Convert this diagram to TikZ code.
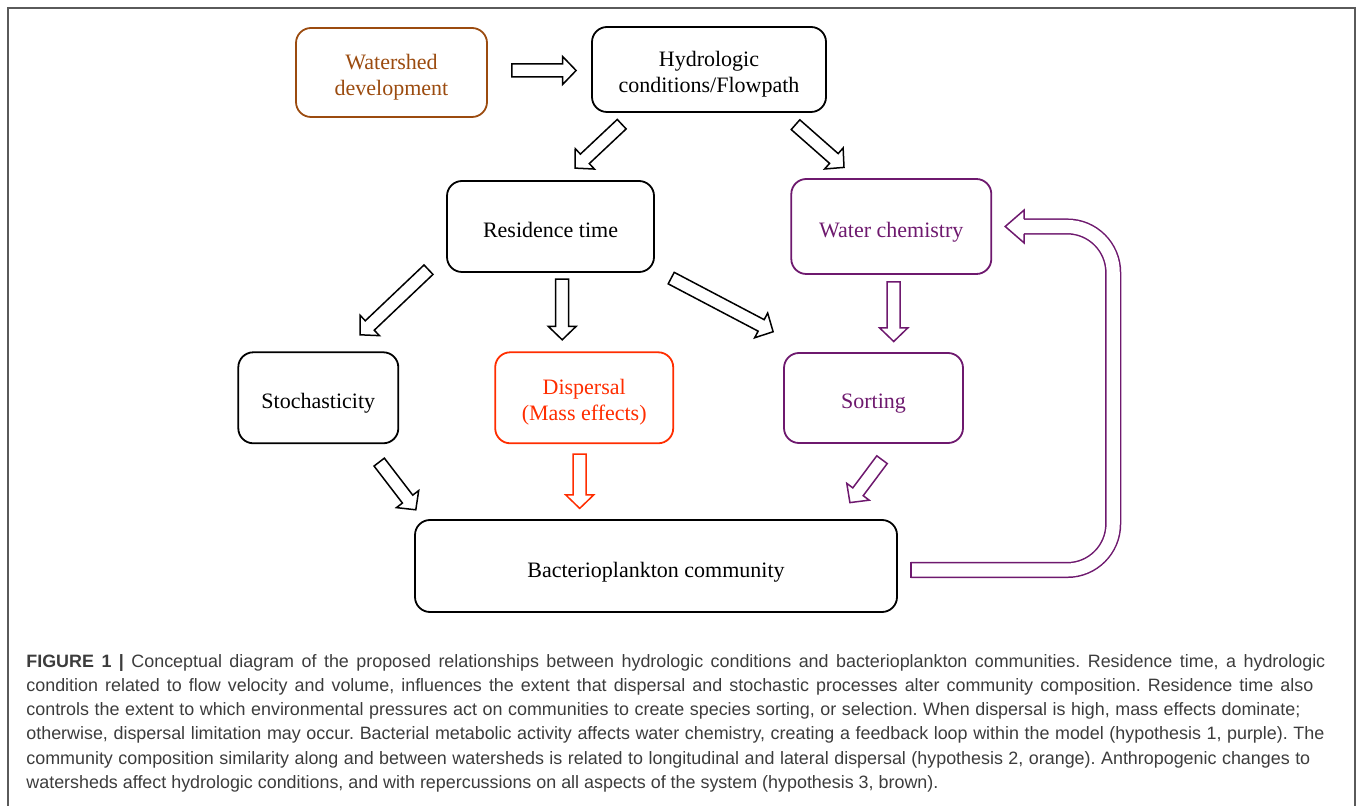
\documentclass[tikz,border=0pt]{standalone}
\usepackage{fontspec}
\setmainfont{Liberation Serif}
\newfontfamily\capfont{Liberation Sans}
\usepackage{tikz}
\usetikzlibrary{calc}
\definecolor{wsbrown}{RGB}{155,75,15}
\definecolor{hpurple}{RGB}{110,25,110}
\definecolor{dred}{RGB}{255,45,0}
\definecolor{capgray}{RGB}{60,60,60}
\definecolor{framegray}{RGB}{90,90,90}
\newcommand{\hstrut}{\rule{0pt}{12pt}}
\newcommand{\capline}[2]{\makebox[#1][s]{#2}}
\newcommand{\barrow}[3][black]{%
  \path (#2) coordinate (bt) (#3) coordinate (bh);
  \path ($(bh)!6.75pt!(bt)$) coordinate (bb);
  \draw[#1,line width=0.75pt,line join=miter]
    ($(bt)!3.25pt!90:(bh)$) -- ($(bb)!3.25pt!90:(bh)$) -- ($(bb)!7pt!90:(bh)$)
    -- (bh) -- ($(bb)!7pt!-90:(bh)$) -- ($(bb)!3.25pt!-90:(bh)$)
    -- ($(bt)!3.25pt!-90:(bh)$) -- cycle;}
\begin{document}
\begin{tikzpicture}[x=0.5pt,y=-0.5pt,font=\fontsize{11}{13}\selectfont]
  \tikzstyle{box}=[draw,rounded corners=7.5pt,line width=0.9pt,align=center,inner sep=2pt]
  \tikzstyle{oneline}=[text height=11pt,text depth=0pt]
  \tikzstyle{loopline}=[hpurple,line width=0.75pt,double=white,double distance=6.55pt,rounded corners=23pt]
  \tikzstyle{caption}=[anchor=north west,align=left,inner sep=0pt,text=capgray,font=\capfont\fontsize{8.95}{12.1}\selectfont\frenchspacing]
  \useasboundingbox (0,0) rectangle (1358,806);
  \draw[framegray,line width=1pt] (7.5,806) -- (7.5,8.5) -- (1355,8.5) -- (1355,806);

  \node[box,wsbrown,minimum width=95.5pt,minimum height=44.5pt] (ws) at (391.5,72.5) {\hstrut Watershed\\development};
  \node[box,minimum width=117pt,minimum height=42.5pt] (hyd) at (709,69.5) {\hstrut Hydrologic\\conditions/Flowpath};
  \node[box,oneline,minimum width=103.5pt,minimum height=45.5pt] (res) at (550.5,226.5) {Residence time};
  \node[box,oneline,hpurple,minimum width=100pt,minimum height=47.5pt] (wc) at (891.3,226.5) {Water chemistry};
  \node[box,oneline,minimum width=80pt,minimum height=45.5pt] (sto) at (318.3,397.8) {Stochasticity};
  \node[box,dred,minimum width=89pt,minimum height=45.5pt] (dis) at (584.2,397.8) {\hstrut Dispersal\\(Mass effects)};
  \node[box,oneline,hpurple,minimum width=89.5pt,minimum height=45pt] (sor) at (873.5,398) {Sorting};
  \node[box,oneline,minimum width=241pt,minimum height=46pt] (bac) at (656,566) {Bacterioplankton community};

  \barrow{$(ws.east)+(24,-2)$}{$(hyd.west)+(-15,1)$}
  \barrow{$(hyd.south)+(-87.3,11.3)$}{$(res.north)+(24.5,-12)$}
  \barrow{$(hyd.south)+(86.5,11.8)$}{$(wc.north)+(-47.3,-10.7)$}
  \barrow{$(res.south)+(-122,-3.2)$}{$(sto.north)+(41.7,-16.6)$}
  \barrow{$(res.south)+(11.7,6.3)$}{$(dis.north)+(-22,-11.6)$}
  \barrow{$(res.south east)+(16.3,5.2)$}{$(sor.north west)+(-10,-20.4)$}
  \barrow[hpurple]{$(wc.south)+(2.4,7)$}{$(sor.north)+(20.2,-10.6)$}
  \barrow{$(sto.south)+(60.9,17.9)$}{$(bac.north west)+(1.7,-9.3)$}
  \barrow[dred]{$(dis.south)+(-4.5,10)$}{$(bac.north)+(-76.3,-10.7)$}
  \barrow[hpurple]{$(sor.south)+(8.5,15.8)$}{$(bac.north east)+(-48,-16.5)$}

  % feedback loop
  \draw[loopline] ($(bac.east)+(13,4)$) -| ($(wc.east)+(121,0)$) -- ($(wc.east)+(32,0)$);
  \draw[hpurple,line width=0.75pt] ($(bac.east)+(13,-4.05)$) -- ($(bac.east)+(13,12.05)$);
  \draw[hpurple,line width=0.75pt,line join=miter] ($(wc.east)+(32,-7.3)$) -- ($(wc.east)+(32,-16.5)$)
    -- ($(wc.east)+(13,0)$) -- ($(wc.east)+(32,16.5)$) -- ($(wc.east)+(32,7.3)$);

  \node[caption] (cap) at (26,654) {\capline{649.5pt}{\textbf{FIGURE 1 |} Conceptual diagram of the proposed relationships between hydrologic conditions and bacterioplankton communities. Residence time, a hydrologic}\\
\capline{643.5pt}{condition related to flow velocity and volume, influences the extent that dispersal and stochastic processes alter community composition. Residence time also}\\
\capline{637pt}{controls the extent to which environmental pressures act on communities to create species sorting, or selection. When dispersal is high, mass effects dominate;}\\
\capline{649pt}{otherwise, dispersal limitation may occur. Bacterial metabolic activity affects water chemistry, creating a feedback loop within the model (hypothesis 1, purple). The}\\
\capline{642pt}{community composition similarity along and between watersheds is related to longitudinal and lateral dispersal (hypothesis 2, orange). Anthropogenic changes to}\\
watersheds affect hydrologic conditions, and with repercussions on all aspects of the system (hypothesis 3, brown).};
\end{tikzpicture}
\end{document}
